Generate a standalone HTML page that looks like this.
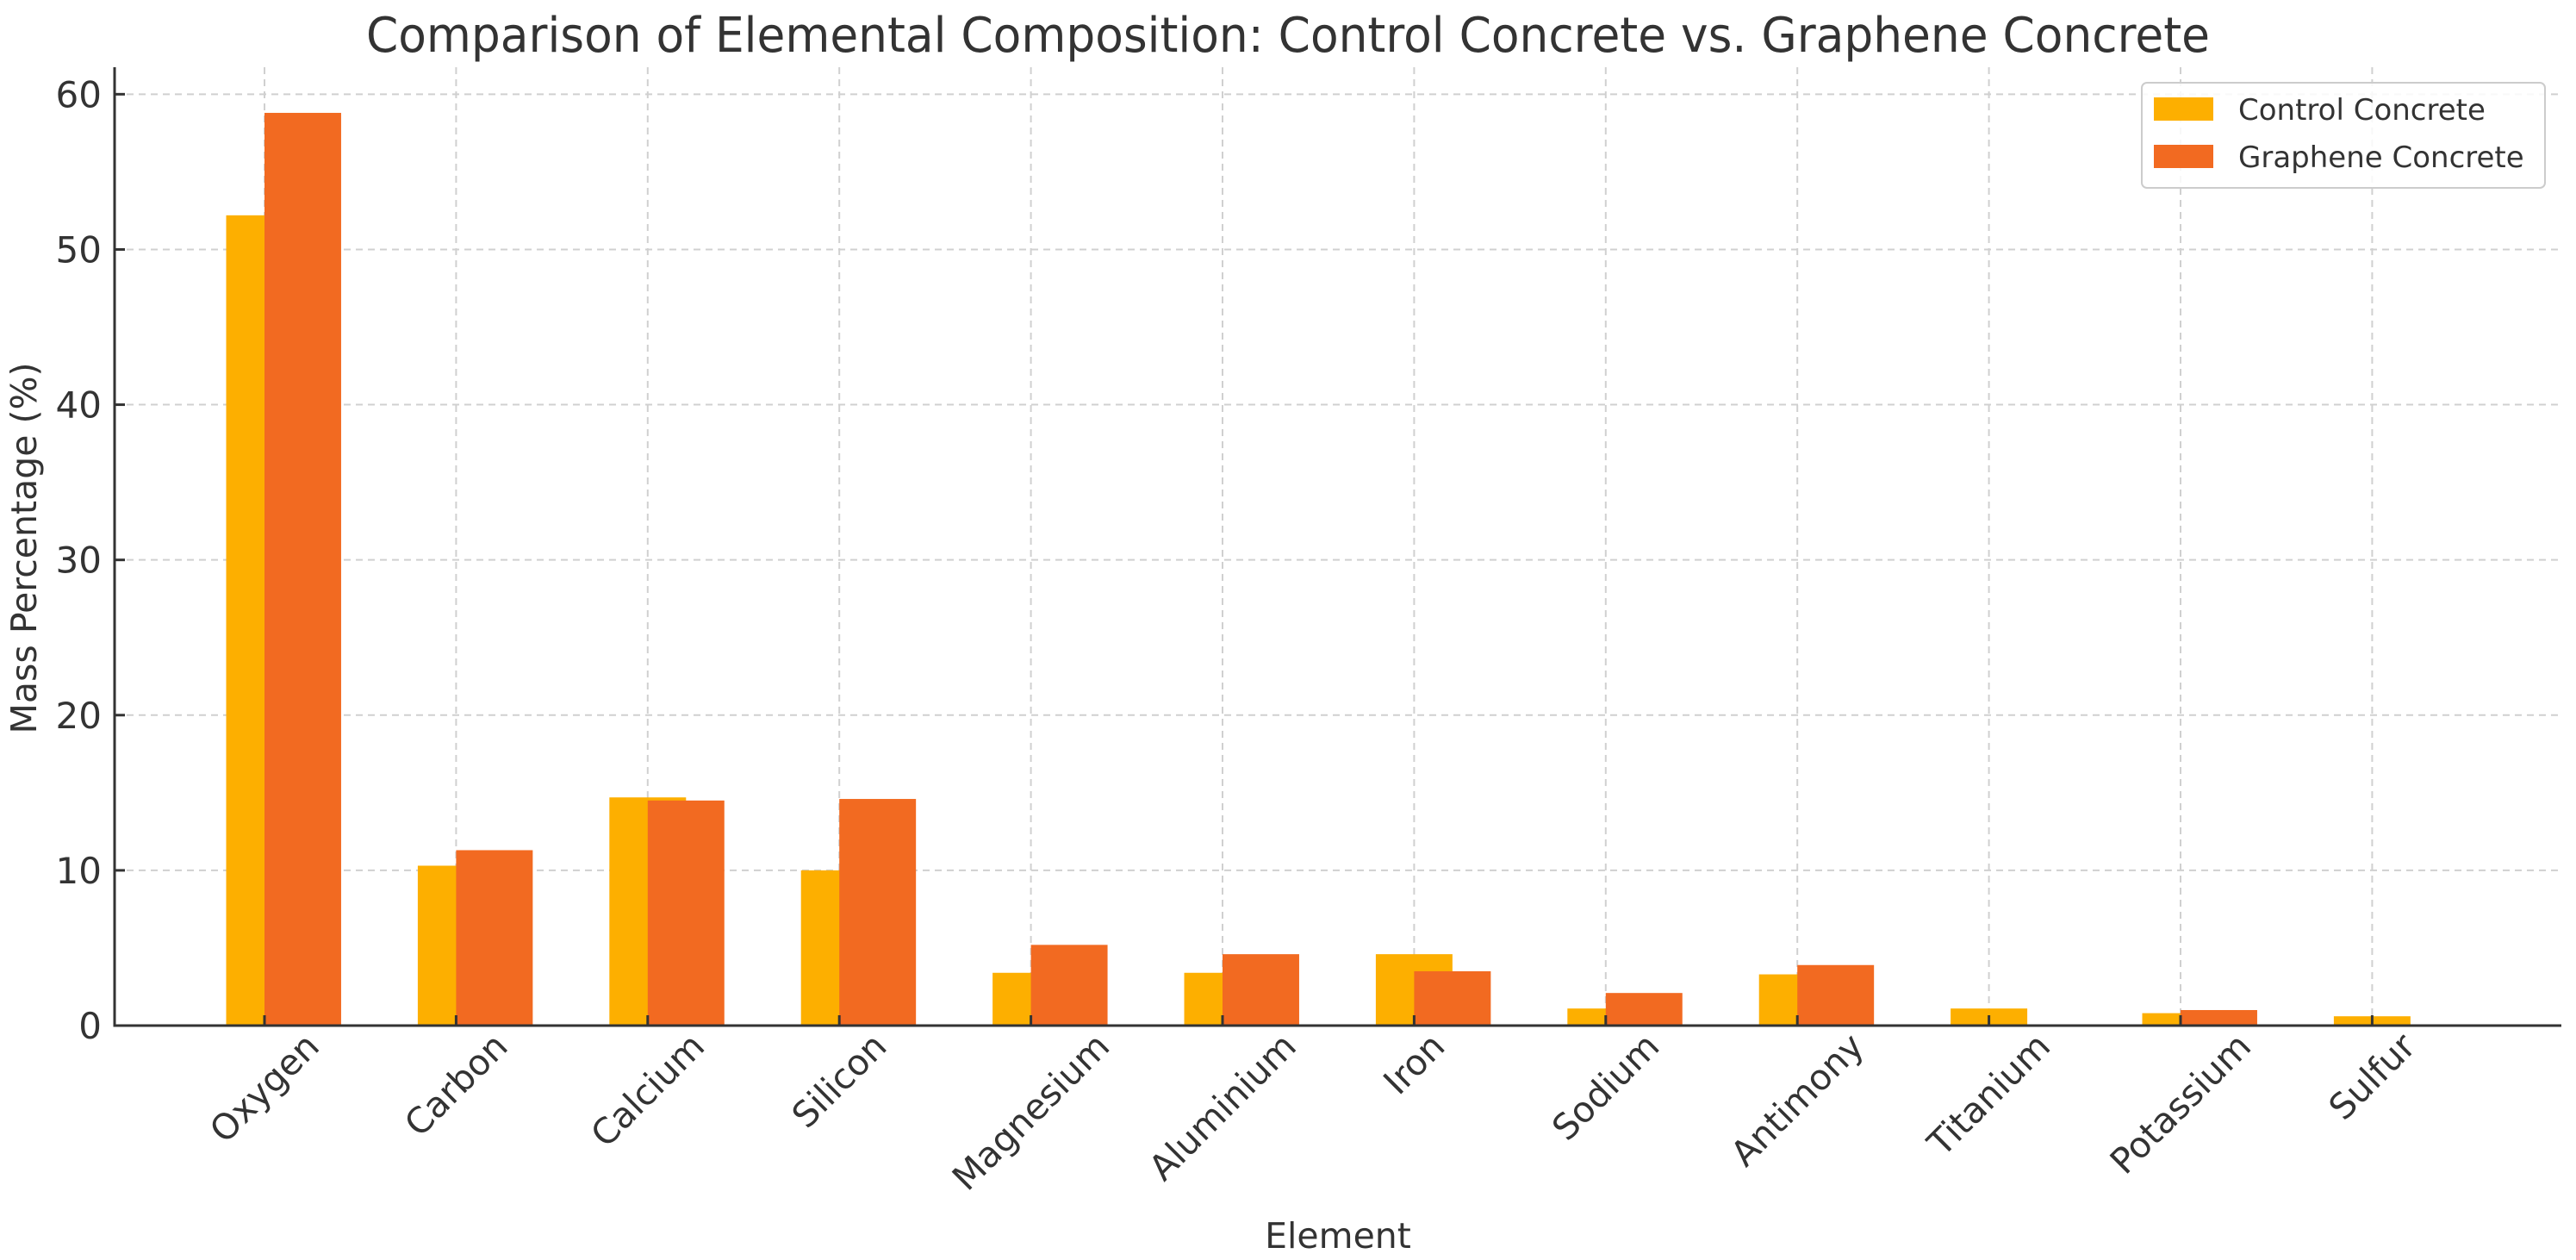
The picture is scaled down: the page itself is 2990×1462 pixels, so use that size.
<!DOCTYPE html>
<html><head><meta charset="utf-8"><style>
html,body{margin:0;padding:0;background:#fff;}
svg{display:block;font-family:"DejaVu Sans","Liberation Sans",sans-serif;}
</style></head><body>
<svg id="chart" width="2990" height="1462" viewBox="0 0 2990 1462" xmlns="http://www.w3.org/2000/svg">
<rect width="2990" height="1462" fill="#fff"/>
<text x="1495" y="60" text-anchor="middle" font-size="56" fill="#333" textLength="2140" lengthAdjust="spacingAndGlyphs">Comparison of Elemental Composition: Control Concrete vs. Graphene Concrete</text>
<g id="grid"></g>
<g id="bars"></g>
<g id="axes"></g>
<text x="1553" y="1448" text-anchor="middle" font-size="41" fill="#333">Element</text>
<text transform="translate(42,636) rotate(-90)" text-anchor="middle" font-size="41" fill="#333">Mass Percentage (%)</text>
<g>
<rect x="2486" y="96" width="468" height="122" rx="6" fill="#fff" fill-opacity="0.85" stroke="#ccc" stroke-width="2"/>
<rect x="2500" y="113" width="69" height="27" fill="#FDAF00"/>
<text x="2598" y="139" font-size="34" fill="#333">Control Concrete</text>
<rect x="2500" y="168" width="69" height="27" fill="#F26A21"/>
<text x="2598" y="194" font-size="34" fill="#333">Graphene Concrete</text>
</g>
</svg>
<script>
const categories = ["Oxygen","Carbon","Calcium","Silicon","Magnesium","Aluminium","Iron","Sodium","Antimony","Titanium","Potassium","Sulfur"];
const controlValues = [52.2,10.3,14.7,10.0,3.4,3.4,4.6,1.1,3.3,1.1,0.8,0.6];
const grapheneValues = [58.8,11.3,14.5,14.6,5.2,4.6,3.5,2.1,3.9,0,1.0,0];
const yTicks = [0,10,20,30,40,50,60];

const NS = "http://www.w3.org/2000/svg";
const X0 = 133, X1 = 2973, Y0 = 1190, YT = 78;
const xStart = 307, xStep = 222.4, barW = 0.4;
function xScale(i){ return xStart + xStep * i; }
function yScale(v){ return Y0 - (v / 61.74) * (Y0 - YT); }
function mk(tag, attrs, parent){ const e = document.createElementNS(NS, tag); for (const k in attrs) e.setAttribute(k, attrs[k]); parent.appendChild(e); return e; }

const grid = document.getElementById('grid');
const bars = document.getElementById('bars');
const axes = document.getElementById('axes');

yTicks.forEach(t => {
  const y = yScale(t);
  const g = mk('line', {x1:X0, x2:X1, y1:y, y2:y, stroke:'#d0d0d0', 'stroke-width':2, 'stroke-dasharray':'8,6'}, grid);
  
  
  const tk = mk('line', {x1:X0, x2:X0+12, y1:y, y2:y, stroke:'#333', 'stroke-width':3}, axes);
  
  
  const lb = mk('text', {x:118, y:y+15, 'text-anchor':'end', 'font-size':42, fill:'#333'}, axes);
  lb.textContent = t;
  
  
});

categories.forEach((c, i) => {
  const x = xScale(i);
  const g = mk('line', {x1:x, x2:x, y1:YT, y2:Y0, stroke:'#d0d0d0', 'stroke-width':2, 'stroke-dasharray':'8,6'}, grid);
  
  
  const w = barW * xStep;
  const yc = yScale(controlValues[i]);
  const b1 = mk('rect', {x:x - w/2, y:yc, width:w, height:Y0-yc, fill:'#FDAF00'}, bars);
  
  
  const yg = yScale(grapheneValues[i]);
  const b2 = mk('rect', {x:x, y:yg, width:w, height:Y0-yg, fill:'#F26A21'}, bars);
  
  
  const tk = mk('line', {x1:x, x2:x, y1:Y0, y2:Y0-12, stroke:'#333', 'stroke-width':3}, axes);
  
  
  const lb = mk('text', {x:x, y:0, 'text-anchor':'middle', 'dominant-baseline':'central', 'font-size':41, fill:'#333'}, axes);
  lb.textContent = c;
  
  
  const L = lb.getComputedTextLength();
  const cy = 1191 + (L + 44) * Math.SQRT1_2 / 2;
  lb.setAttribute('y', cy);
  lb.setAttribute('transform', 'rotate(-45 ' + x + ' ' + cy + ')');
});

const sl = mk('line', {x1:X0, x2:X0, y1:YT, y2:Y0+1.5, stroke:'#333', 'stroke-width':3}, axes);


const sb = mk('line', {x1:X0-1.5, x2:X1, y1:Y0, y2:Y0, stroke:'#333', 'stroke-width':3}, axes);


</script>
</body></html>
